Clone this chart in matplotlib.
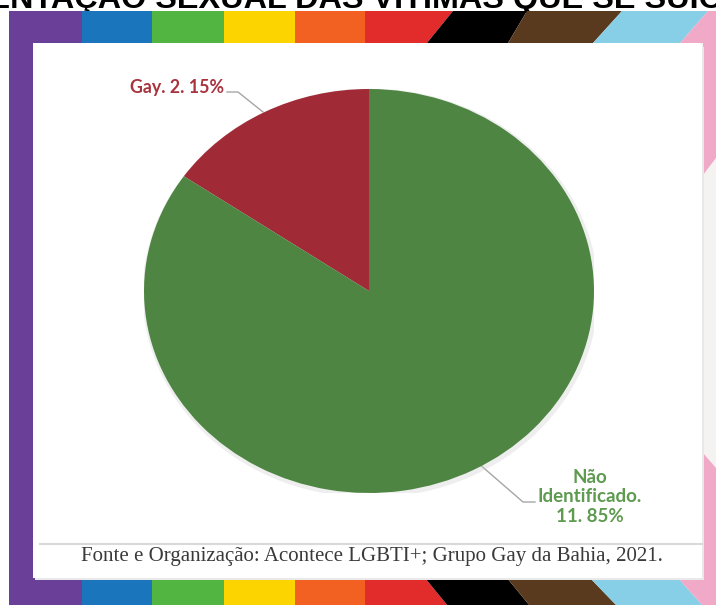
import matplotlib
matplotlib.use("Agg")
import matplotlib.pyplot as plt
from matplotlib.patches import Polygon, Rectangle, Ellipse

# data
categories = ["Gay", "Não Identificado"]
counts = [2, 11]
slice_colors = ["#A12A37", "#4E8543"]
label_colors = ["#A8343F", "#5E9A50"]

title = "ORIENTAÇÃO SEXUAL DAS VÍTIMAS QUE SE SUICIDARAM"
source = "Fonte e Organização: Acontece LGBTI+; Grupo Gay da Bahia, 2021."

# progress-flag stripe colours
flag = ["#6A3F98", "#1A75BC", "#52B542", "#FCD500", "#F26122",
        "#E22B2B", "#000000", "#5A3A1E", "#86CFE6", "#F0A9C6"]

W, H = 716, 605
fig = plt.figure(figsize=(W / 100, H / 100), dpi=100)
fig.patch.set_facecolor("white")

# full-figure axes in pixel units for the frame
bg = fig.add_axes([0, 0, 1, 1])
bg.set_xlim(0, W)
bg.set_ylim(H, 0)
bg.axis("off")

# title running off the top edge (stripes cover its lower part)
bg.text(-69, 8, title, ha="left", va="baseline", fontsize=23.3,
        family="Liberation Sans", fontweight="bold", color="black", zorder=0.5)

# light backdrop on the right edge
bg.add_patch(Rectangle((700, 43), 16, 540, color="#F4F3F1", zorder=0))

# top band
top_y0, top_y1 = 11, 43
top_edges = [(9, 9), (82, 82), (152, 152), (224, 224), (295, 295), (365, 365),
             (453, 427), (527, 508), (622, 593), (708, 680), (740, 740)]
for i, c in enumerate(flag):
    (a0, b0), (a1, b1) = top_edges[i], top_edges[i + 1]
    bg.add_patch(Polygon([(a0, top_y0), (a1, top_y0), (b1, top_y1), (b0, top_y1)],
                         closed=True, color=c, lw=0, zorder=1))

# bottom band
bot_y0, bot_y1 = 578, 606
bot_edges = [(9, 9), (82, 82), (152, 152), (224, 224), (295, 295), (365, 365),
             (425, 448), (507, 530), (590, 617), (678, 703), (740, 740)]
for i, c in enumerate(flag):
    (a0, b0), (a1, b1) = bot_edges[i], bot_edges[i + 1]
    bg.add_patch(Polygon([(a0, bot_y0), (a1, bot_y0), (b1, bot_y1), (b0, bot_y1)],
                         closed=True, color=c, lw=0, zorder=1))

# purple left bar
bg.add_patch(Rectangle((9, top_y0), 24, H - top_y0, color=flag[0], lw=0, zorder=1))

# pink right pieces
bg.add_patch(Polygon([(703, 43), (716, 43), (716, 158), (703, 175)],
                     closed=True, color=flag[9], lw=0, zorder=1))
bg.add_patch(Polygon([(703, 453), (716, 468), (716, 580), (703, 580)],
                     closed=True, color=flag[9], lw=0, zorder=1))

# white card with a faint shadow
bg.add_patch(Rectangle((35, 47), 669, 533, color="#E9E9E9", lw=0, zorder=2))
bg.add_patch(Rectangle((33, 45), 669, 533, color="white", lw=0, zorder=3))

# source line
bg.plot([40, 702], [544, 544], color="#D9D9D9", lw=1.5, zorder=4)
bg.text(372, 557, source, ha="center", va="center", fontsize=15,
        family="Liberation Serif", color="#3A3A3A", zorder=4)

# pie
cx, cy, rx, ry = 369, 291, 225, 202
ax = fig.add_axes([(cx - rx) / W, (H - cy - ry) / H, 2 * rx / W, 2 * ry / H])
ax.set_zorder(5)
ax.add_patch(Ellipse((0.006, -0.01), 2.025, 2.025, color="#C8C8C8", alpha=0.3, lw=0, zorder=0))
ax.pie(counts, colors=slice_colors, startangle=90, counterclock=True,
       radius=1, wedgeprops=dict(linewidth=0))
ax.set_aspect("auto")
ax.set_xlim(-1, 1)
ax.set_ylim(-1, 1)
ax.axis("off")

total = sum(counts)
pcts = [round(100 * v / total) for v in counts]

# leader lines and labels, placed in pixel space
bg.plot([227, 238, 263], [92, 92, 112], color="#A6A6A6", lw=1, zorder=6)
bg.text(224, 88, f"{categories[0]}. {counts[0]}. {pcts[0]}%",
        ha="right", va="center", fontsize=12.8, family="Lato", fontweight="bold",
        color=label_colors[0], zorder=6)

name0, name1 = categories[1].split(" ")
bg.plot([478, 523, 535], [463, 502, 502], color="#A6A6A6", lw=1, zorder=6)
bg.text(590, 497, f"{name0}\n{name1}.\n{counts[1]}. {pcts[1]}%",
        ha="center", va="center", fontsize=13.5, family="Lato", fontweight="bold",
        color=label_colors[1], linespacing=1.2, zorder=6)

fig.savefig("out.png", dpi=100)
